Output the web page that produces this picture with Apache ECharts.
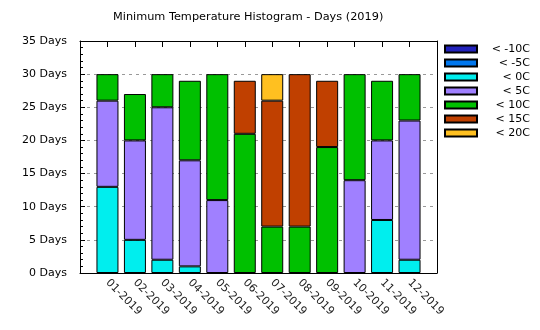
<!DOCTYPE html>
<html>
<head>
<meta charset="utf-8">
<style>
  html, body { margin: 0; padding: 0; background: #ffffff; }
  #chart { width: 540px; height: 330px; }
</style>
<script src="https://cdn.jsdelivr.net/npm/echarts@6/dist/echarts.min.js"></script>
</head>
<body>
<div id="chart"></div>
<script>
// Months on the x axis
const months = ['01-2019', '02-2019', '03-2019', '04-2019', '05-2019', '06-2019',
                '07-2019', '08-2019', '09-2019', '10-2019', '11-2019', '12-2019'];

// Days per month whose minimum temperature fell in each band
const bandNames = ['< -10C', '< -5C', '< 0C', '< 5C', '< 10C', '< 15C', '< 20C'];
const belowMinus10 = [0, 0, 0, 0, 0, 0, 0, 0, 0, 0, 0, 0];
const belowMinus5  = [0, 0, 0, 0, 0, 0, 0, 0, 0, 0, 0, 0];
const below0       = [13, 5, 2, 1, 0, 0, 0, 0, 0, 0, 8, 2];
const below5       = [13, 15, 23, 16, 11, 0, 0, 0, 0, 14, 12, 21];
const below10      = [4, 7, 5, 12, 19, 21, 7, 7, 19, 16, 9, 7];
const below15      = [0, 0, 0, 0, 0, 8, 19, 23, 10, 0, 0, 0];
const below20      = [0, 0, 0, 0, 0, 0, 4, 0, 0, 0, 0, 0];

const bandColors = ['#2222bb', '#0077ee', '#00eeee', '#a080ff', '#00c000', '#c04000', '#ffc020'];

// Y axis ticks
const yMin = 0, yMax = 35, yStep = 5;

const bandValues = [belowMinus10, belowMinus5, below0, below5, below10, below15, below20];

// One empty slot on each side of the months, so bars sit one unit in from the frame
const slots = [''].concat(months, ['']);
const pad = arr => ['-'].concat(arr.map(v => (v === 0 ? '-' : v)), ['-']);

const font = 'DejaVu Sans';

const series = bandNames.map((name, i) => ({
  name: name,
  type: 'bar',
  stack: 'days',
  barWidth: 22,
  xAxisIndex: 0,
  yAxisIndex: 0,
  data: pad(bandValues[i]),
  itemStyle: { color: bandColors[i], borderColor: '#000', borderWidth: 1 },
  emphasis: { disabled: true }
}));

const chart = echarts.init(document.getElementById('chart'), null, { renderer: 'canvas' });
chart.setOption({
  animation: false,
  backgroundColor: '#ffffff',
  title: {
    text: 'Minimum Temperature Histogram - Days (2019)',
    left: 113,
    top: 12,
    padding: 0,
    textStyle: { fontFamily: font, fontSize: 11.3, fontWeight: 'normal', color: '#000' }
  },
  legend: {
    orient: 'vertical',
    left: 444,
    top: 43,
    padding: 0,
    itemGap: 2,
    itemWidth: 32,
    itemHeight: 7,
    icon: 'rect',
    selectedMode: false,
    data: bandNames,
    formatter: name => '{t|' + name + '}',
    textStyle: {
      fontFamily: font,
      fontSize: 11,
      color: '#000',
      lineHeight: 12,
      rich: { t: { width: 48, align: 'right', lineHeight: 12, fontFamily: font, fontSize: 11 } }
    }
  },
  grid: { left: 80, right: 103, top: 41, bottom: 57, containLabel: false },
  xAxis: [
    {
      type: 'category',
      data: slots,
      boundaryGap: false,
      position: 'bottom',
      axisLine: { onZero: false, lineStyle: { color: '#000', width: 1 } },
      axisTick: { show: false },
      axisLabel: {
        interval: 0,
        rotate: -45,
        margin: 8,
        fontFamily: font,
        fontSize: 11,
        color: '#222'
      },
      splitLine: { show: false }
    },
    {
      // upper edge of the frame, with ticks mirrored from the months
      type: 'category',
      data: slots,
      boundaryGap: false,
      position: 'top',
      axisLine: { onZero: false, lineStyle: { color: '#000', width: 1 } },
      axisTick: { show: true, inside: true, length: 6, interval: 0, lineStyle: { color: '#000', width: 1 } },
      axisLabel: { show: true, interval: 0, formatter: () => '' },
      splitLine: { show: false }
    }
  ],
  yAxis: [
    {
      type: 'value',
      min: yMin,
      max: yMax,
      interval: yStep,
      position: 'left',
      axisLine: { show: true, onZero: false, lineStyle: { color: '#000', width: 1 } },
      axisTick: { show: true, inside: true, length: 5, lineStyle: { color: '#000', width: 1 } },
      minorTick: { show: true, splitNumber: 5, length: 3, lineStyle: { color: '#000', width: 1 } },
      axisLabel: {
        formatter: '{value} Days',
        margin: 13,
        fontFamily: font,
        fontSize: 11,
        color: '#000'
      },
      splitLine: { show: true, lineStyle: { color: '#999', type: [3, 4], width: 1 } }
    },
    {
      type: 'value',
      min: yMin,
      max: yMax,
      interval: yStep,
      position: 'right',
      axisLine: { show: true, onZero: false, lineStyle: { color: '#000', width: 1 } },
      axisTick: { show: false },
      axisLabel: { show: false },
      splitLine: { show: false }
    }
  ],
  series: series
});
</script>
</body>
</html>
